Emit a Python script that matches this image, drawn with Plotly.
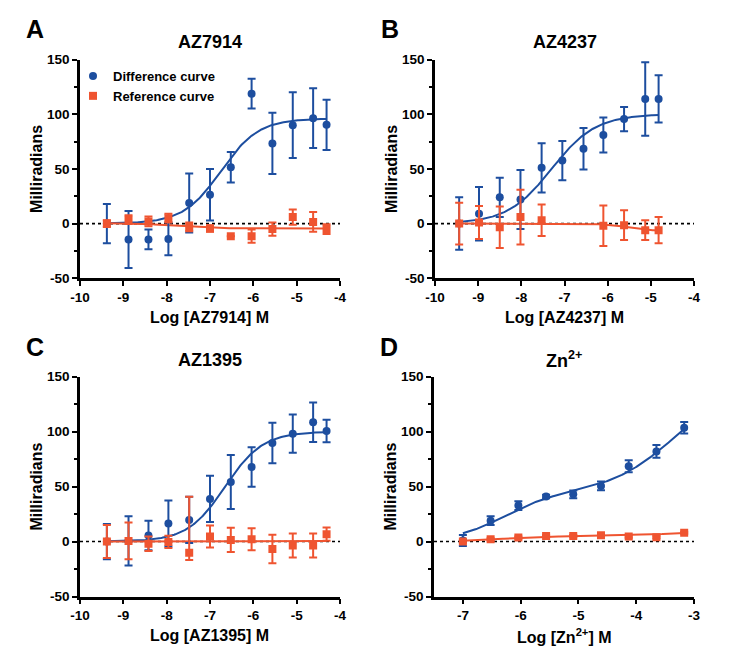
import numpy as np
import plotly.graph_objects as go

# ---------------- data ----------------
x_A = [-9.38, -8.88, -8.42, -7.96, -7.48, -7.0, -6.52, -6.04, -5.56, -5.09, -4.62, -4.31]
diff_A = [0, -14.5, -14.5, -14, 18.8, 26.4, 51.5, 118.8, 73.3, 90, 96.4, 90.3]
diff_A_err = [18, 26, 9, 15, 27, 23.6, 14, 13.6, 28, 30, 27.4, 23]
ref_A = [0, 3.6, 2, 5, -3, -4.5, -11.5, -11.5, -5, 6, 1.5, -5]
ref_A_err = [3, 4, 4.5, 4, 4, 3, 0, 6, 6, 7, 9, 4.5]

x_B = [-9.44, -8.98, -8.5, -8.02, -7.53, -7.05, -6.56, -6.1, -5.62, -5.13, -4.82]
diff_B = [0, 9, 24, 22, 51, 57.6, 68.5, 81, 95.5, 114, 114]
diff_B_err = [24, 24.5, 18, 27, 22.5, 18, 19, 16, 11, 33.6, 21.7]
ref_B = [0, 1, -3.3, 6, 3, None, None, -2, -1.5, -6, -6]
ref_B_err = [19, 15, 19, 25, 14.4, 0, 0, 18.5, 13.6, 9, 12]

x_C = [-9.38, -8.88, -8.42, -7.96, -7.48, -7.0, -6.52, -6.04, -5.56, -5.09, -4.62, -4.31]
diff_C = [0, 0.6, 5.5, 16.4, 19.7, 38.8, 54.2, 67.9, 89.7, 98.2, 108.5, 100.6]
diff_C_err = [16, 22.5, 13.5, 21, 21, 21, 24.5, 18, 18.5, 17.4, 18, 10.3]
ref_C = [0, 0.6, -2, -0.3, -10.3, 4.5, 1.5, 2, -6.7, -3.6, -3.6, 6.7]
ref_C_err_plus = [15, 16.7, 6.5, 5.6, 51, 10, 11, 10, 13, 11, 11, 6]
ref_C_err_minus = [15, 16.7, 6.5, 5.6, 6.5, 10, 11, 10, 13, 11, 11, 6]

x_D = [-7.0, -6.52, -6.04, -5.56, -5.09, -4.61, -4.13, -3.65, -3.17]
diff_D = [1, 19, 32.7, 41, 43, 50.6, 68.5, 82, 103.6]
diff_D_err = [5, 4, 4, 1.5, 3.5, 4, 5.5, 5.8, 5.2]
ref_D = [0, 2, 3.6, 5, 5, 5.7, 4.5, 4, 8]
ref_D_err = [1, 1, 1, 1, 1, 1, 1, 1, 1]

# fitted-curve parameters: bottom, amp1, logEC50_1, hill1, amp2, logEC50_2, hill2
fit_diff_A = [0, 96, -6.75, 1.0, 0, -3, 1]
fit_ref_A = [0.5, -5.0, -7.8, 1.0, 0, -3, 1]
fit_diff_B = [0, 100, -7.3, 0.85, 0, -3, 1]
fit_ref_B = [0, -7, -5.5, 1.5, 0, -3, 1]
fit_diff_C = [0, 100, -6.65, 1.0, 0, -3, 1]
fit_ref_C = [0, 0.5, -6.5, 1.0, 0, -3, 1]
fit_diff_D = [0, 44, -6.3, 1.0, 105, -3.3, 0.75]
fit_ref_D = [0, 5, -6.3, 1.0, 5, -3.3, 1.0]

panel_letters = ["A", "B", "C", "D"]
panel_titles = ["AZ7914", "AZ4237", "AZ1395", "Zn<sup>2+</sup>"]
x_titles = ["Log [AZ7914] M", "Log [AZ4237] M", "Log [AZ1395] M", "Log [Zn<sup>2+</sup>] M"]
y_title = "Milliradians"
legend_names = ["Difference curve", "Reference curve"]
x_ranges = [[-10, -4], [-10, -4], [-10, -4], [-7.5, -3]]
x_ticks = [[-10, -9, -8, -7, -6, -5, -4]] * 3 + [[-7, -6, -5, -4, -3]]
x_ticklabels = [["-10", "-9", "-8", "-7", "-6", "-5", "-4"]] * 3 + [["-7", "-6", "-5", "-4", "-3"]]
y_ticks = [-50, 0, 50, 100, 150]
y_ticklabels = ["-50", "0", "50", "100", "150"]
y_minor_ticks = [-25, 25, 75, 125]

BLUE = "#1d4e9f"
ORANGE = "#ef5430"
W, H = 750, 671
OFF = 8  # page body margin in which the figure sits
FONT = "Liberation Sans, Arial, sans-serif"

# plot-area boxes in screen pixels: (left, right, top, bottom)
boxes = [(80, 340, 59.5, 278.3), (435, 694, 59.5, 278.3),
         (80, 340, 376.7, 596.5), (434, 694, 376.7, 596.5)]


def px(p):
    return (p - OFF) / W


def py(p):
    return (H - (p - OFF)) / H


def curve(params, x0, x1):
    b, a1, e1, h1, a2, e2, h2 = params
    xs = np.linspace(x0, x1, 200)
    ys = b + a1 / (1 + 10 ** (h1 * (e1 - xs))) + a2 / (1 + 10 ** (h2 * (e2 - xs)))
    return xs, ys


panels = [
    (x_A, diff_A, diff_A_err, ref_A, ref_A_err, ref_A_err, fit_diff_A, fit_ref_A),
    (x_B, diff_B, diff_B_err, ref_B, ref_B_err, ref_B_err, fit_diff_B, fit_ref_B),
    (x_C, diff_C, diff_C_err, ref_C, ref_C_err_plus, ref_C_err_minus, fit_diff_C, fit_ref_C),
    (x_D, diff_D, diff_D_err, ref_D, ref_D_err, ref_D_err, fit_diff_D, fit_ref_D),
]

fig = go.Figure()
annotations = []
shapes = []

for i, (xs, dv, de, rv, rep, rem, fd, fr) in enumerate(panels):
    n = "" if i == 0 else str(i + 1)
    xa, ya = "x" + n, "y" + n
    l, r, t, b = boxes[i]

    axis_common = dict(showline=True, linecolor="black", linewidth=2.5, ticks="outside",
                       tickwidth=2, tickcolor="black", ticklen=5, showgrid=False, zeroline=False,
                       automargin=False,
                       tickfont=dict(family=FONT, size=13.5, color="black", weight="bold"))
    fig.update_layout(**{
        "xaxis" + n: dict(domain=[px(l), px(r)], anchor=ya, range=x_ranges[i],
                          tickvals=x_ticks[i], ticktext=x_ticklabels[i], **axis_common),
        "yaxis" + n: dict(domain=[py(b), py(t)], anchor=xa, range=[-50, 150],
                          tickvals=y_ticks, ticktext=y_ticklabels,
                          minor=dict(tickvals=y_minor_ticks, ticks="outside", ticklen=3,
                                     tickwidth=2, tickcolor="black"),
                          **axis_common),
    })

    shapes.append(dict(type="line", xref=xa + " domain", yref=ya, x0=0, x1=1, y0=0, y1=0,
                       line=dict(color="black", width=1.6, dash="dot"), layer="below"))

    cx, cy = curve(fd, xs[0], xs[-1])
    fig.add_trace(go.Scatter(x=cx, y=cy, mode="lines", line=dict(color=BLUE, width=2),
                             xaxis=xa, yaxis=ya, showlegend=False, hoverinfo="skip"))
    cx, cy = curve(fr, xs[0], xs[-1])
    fig.add_trace(go.Scatter(x=cx, y=cy, mode="lines", line=dict(color=ORANGE, width=2),
                             xaxis=xa, yaxis=ya, showlegend=False, hoverinfo="skip"))

    fig.add_trace(go.Scatter(x=xs, y=dv, mode="markers", name=legend_names[0],
                             marker=dict(color=BLUE, size=8, symbol="circle"),
                             error_y=dict(type="data", array=de, color=BLUE, thickness=2, width=4),
                             xaxis=xa, yaxis=ya, showlegend=(i == 0)))
    fig.add_trace(go.Scatter(x=xs, y=rv, mode="markers", name=legend_names[1],
                             marker=dict(color=ORANGE, size=8, symbol="square"),
                             error_y=dict(type="data", symmetric=False, array=rep, arrayminus=rem,
                                          color=ORANGE, thickness=2, width=4),
                             xaxis=xa, yaxis=ya, showlegend=(i == 0)))

    cxp = (l + r) / 2
    annotations.append(dict(text="<b>%s</b>" % panel_letters[i], xref="paper", yref="paper",
                            x=px(l - 45), y=py(t - 30), showarrow=False,
                            font=dict(family=FONT, size=25, color="black"),
                            xanchor="center", yanchor="middle"))
    annotations.append(dict(text="<b>%s</b>" % panel_titles[i], xref="paper", yref="paper",
                            x=px(cxp), y=py(t - 17), showarrow=False,
                            font=dict(family=FONT, size=18, color="black"),
                            xanchor="center", yanchor="middle"))
    annotations.append(dict(text="<b>%s</b>" % x_titles[i], xref="paper", yref="paper",
                            x=px(cxp), y=py(b + 39), showarrow=False,
                            font=dict(family=FONT, size=16, color="black"),
                            xanchor="center", yanchor="middle"))
    annotations.append(dict(text="<b>%s</b>" % y_title, xref="paper", yref="paper",
                            x=px(l - 43), y=py((t + b) / 2), showarrow=False, textangle=-90,
                            font=dict(family=FONT, size=16, color="black"),
                            xanchor="center", yanchor="middle"))

fig.update_layout(
    width=W, height=H, margin=dict(l=0, r=0, t=0, b=0, pad=0, autoexpand=False),
    plot_bgcolor="white", paper_bgcolor="white",
    annotations=annotations, shapes=shapes,
    legend=dict(x=px(73), y=py(61), xanchor="left", yanchor="top",
                bgcolor="rgba(0,0,0,0)",
                font=dict(family=FONT, size=13, color="black", weight="bold"),
                tracegroupgap=0, itemwidth=30),
)

fig.write_html("out.html")
